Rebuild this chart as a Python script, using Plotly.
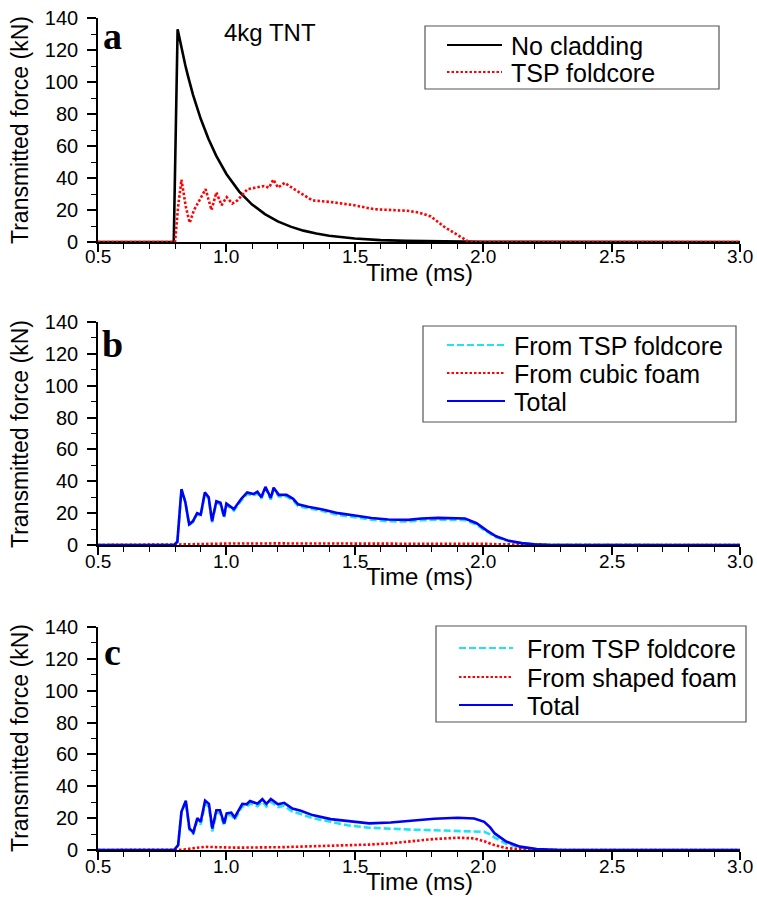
import plotly.graph_objects as go

# ---------------- Panel a ----------------
t_a_nc = [0.5, 0.795, 0.81, 0.82, 0.83, 0.84, 0.85, 0.87, 0.9, 0.93, 0.96, 1.0, 1.05, 1.1, 1.15, 1.2,
          1.25, 1.3, 1.35, 1.4, 1.5, 1.6, 1.7, 1.8, 1.9, 2.0, 3.0]
f_a_nc = [0, 0, 133, 125, 117.5, 110.5, 104, 92, 77, 64.5, 54, 42.5, 31.5, 23.4, 17.4, 12.9,
          9.6, 7.1, 5.3, 3.9, 2.2, 1.2, 0.7, 0.4, 0.2, 0.1, 0]

t_a_tsp = [0.5, 0.8, 0.812, 0.825, 0.842, 0.857, 0.874, 0.919, 0.942, 0.961, 0.981, 1.001, 1.023, 1.043,
           1.082, 1.121, 1.147, 1.166, 1.183, 1.201, 1.227, 1.264, 1.335, 1.406, 1.497, 1.575, 1.705,
           1.75, 1.796, 1.848, 1.9, 1.939, 1.958, 3.0]
f_a_tsp = [0, 0, 22, 39, 22, 12, 20, 33, 20, 31, 23, 28, 24, 26,
           33, 34, 35, 34, 39, 34, 37, 33, 26, 25, 23, 20.5, 19.5,
           18.4, 16, 9.5, 4.2, 0.6, 0, 0]

# ---------------- Panel b ----------------
t_b = [0.5, 0.796, 0.809, 0.825, 0.84, 0.855, 0.87, 0.886, 0.9, 0.916, 0.931, 0.944, 0.961, 0.977, 0.991,
       1.0, 1.029, 1.058, 1.081, 1.106, 1.121, 1.136, 1.152, 1.173, 1.184, 1.204, 1.234, 1.26, 1.279,
       1.318, 1.37, 1.435, 1.5, 1.565, 1.63, 1.708, 1.76, 1.825, 1.929, 1.974, 2.013, 2.05, 2.1, 2.15,
       2.2, 2.25, 3.0]
b_total = [0, 0, 2, 35, 27, 13, 15, 20, 19, 33, 30, 15, 27.5, 26.5, 18,
           26, 22.5, 29, 33, 32, 33.5, 30, 36.5, 29.5, 36, 31.5, 31.5, 29, 25.5,
           24, 22.5, 20, 18.5, 17, 16, 15.8, 16.6, 17, 16.6, 13.7, 9.2, 5.5, 2.6, 1.2,
           0.4, 0.1, 0]
b_foam = [0, 0, 0, 0, 0.2, 0.4, 0.5, 0.6, 0.7, 0.7, 0.8, 0.8, 0.8, 0.9, 0.9,
          0.9, 0.9, 1.0, 1.0, 1.0, 1.0, 1.0, 1.0, 1.0, 1.0, 1.0, 1.0, 1.0, 1.0,
          1.0, 1.0, 1.1, 1.1, 1.1, 1.1, 1.1, 1.1, 1.1, 1.0, 0.9, 0.7, 0.5, 0.3, 0.1,
          0.0, 0, 0]
b_tsp = [0, 0, 2, 35, 26.8, 12.6, 14.5, 19.4, 18.3, 32.3, 29.2, 14.2, 26.7, 25.6, 17.1,
         25.1, 21.6, 28, 32, 31, 32.5, 29, 35.5, 28.5, 35, 30.5, 30.5, 28, 24.5,
         23, 21.5, 18.9, 17.4, 15.9, 14.9, 14.7, 15.5, 15.9, 15.6, 12.8, 8.5, 5, 2.3, 1.1,
         0.4, 0.1, 0]

# ---------------- Panel c ----------------
t_c = [0.5, 0.796, 0.812, 0.825, 0.842, 0.856, 0.871, 0.887, 0.9, 0.917, 0.932, 0.945, 0.961, 0.975, 0.991,
       1.001, 1.019, 1.032, 1.062, 1.079, 1.092, 1.121, 1.14, 1.156, 1.173, 1.201, 1.225, 1.257, 1.29,
       1.335, 1.406, 1.471, 1.556, 1.64, 1.718, 1.809, 1.9, 1.965, 2.004, 2.027, 2.045, 2.091, 2.143,
       2.208, 2.3, 3.0]
c_total = [0, 0, 3, 24, 31, 13.5, 11, 20, 17.7, 31, 29, 13.5, 25, 25, 16.7,
           23, 23.5, 20.4, 29, 28.7, 30.8, 29, 31.9, 29, 32, 28.7, 29.6, 26, 24.6,
           21.9, 19.4, 18.1, 16.7, 17.3, 18.3, 19.6, 20.2, 19.8, 17.7, 14.2, 10.4, 5.2, 2.1,
           0.6, 0, 0]
c_foam = [0, 0, 0, 0.2, 0.5, 0.8, 1.0, 1.4, 1.7, 2.0, 1.9, 1.8, 1.7, 1.6, 1.5,
          1.5, 1.5, 1.5, 1.5, 1.6, 1.6, 1.6, 1.6, 1.7, 1.7, 1.7, 1.8, 1.9, 2.0,
          2.2, 2.5, 2.8, 3.4, 4.2, 5.5, 6.9, 7.7, 7.3, 5.5, 4.3, 3.0, 1.2, 0.4,
          0, 0, 0]
c_tsp = [0, 0, 3, 23.8, 30.5, 12.7, 10, 18.6, 16, 29, 27.1, 11.7, 23.3, 23.4, 15.2,
         21.5, 22, 18.9, 27.5, 27.1, 29.2, 27.4, 30.3, 27.3, 30.3, 27, 27.8, 24.1, 22.6,
         20.0, 17.7, 15.5, 14.0, 13.3, 12.8, 12.4, 12.1, 11.8, 11.4, 9.8, 7.8, 3.8, 1.5,
         0.4, 0, 0]

x_ticks = [0.5, 1.0, 1.5, 2.0, 2.5, 3.0]
x_ticktext = ["0.5", "1.0", "1.5", "2.0", "2.5", "3.0"]
y_ticks = [0, 20, 40, 60, 80, 100, 120, 140]

legend_a = ["No cladding", "TSP foldcore"]
legend_b = ["From TSP foldcore", "From cubic foam", "Total"]
legend_c = ["From TSP foldcore", "From shaped foam", "Total"]

FONT = "Liberation Sans, Arial, sans-serif"
RED = "#FF0000"
CYAN = "#1EE3F0"
BLUE = "#0000F5"
LW = 2.6
DOT = "2.5px,2px"
DASH = "7px,3px"

# body margin is removed by the post script, so the div sits at (0, 0)
W, H = 757, 910
ML, MR, MT, MB = 98, 17, 18, 60
PW = W - ML - MR
PH = H - MT - MB


def px_x(x):
    # window pixel x -> paper coordinate
    return (x - ML) / PW


def px_y(y):
    # window pixel y -> paper coordinate
    return (H - MB - y) / PH


fig = go.Figure()

fig.add_trace(go.Scatter(x=t_a_nc, y=f_a_nc, mode="lines", name=legend_a[0],
                         line=dict(color="black", width=LW), xaxis="x", yaxis="y"))
fig.add_trace(go.Scatter(x=t_a_tsp, y=f_a_tsp, mode="lines", name=legend_a[1],
                         line=dict(color=RED, width=LW, dash=DOT), xaxis="x", yaxis="y"))

fig.add_trace(go.Scatter(x=t_b, y=b_tsp, mode="lines", name=legend_b[0],
                         line=dict(color=CYAN, width=LW, dash=DASH), xaxis="x2", yaxis="y2"))
fig.add_trace(go.Scatter(x=t_b, y=b_foam, mode="lines", name=legend_b[1],
                         line=dict(color=RED, width=LW, dash=DOT), xaxis="x2", yaxis="y2"))
fig.add_trace(go.Scatter(x=t_b, y=b_total, mode="lines", name=legend_b[2],
                         line=dict(color=BLUE, width=LW), xaxis="x2", yaxis="y2"))

fig.add_trace(go.Scatter(x=t_c, y=c_tsp, mode="lines", name=legend_c[0],
                         line=dict(color=CYAN, width=LW, dash=DASH), xaxis="x3", yaxis="y3"))
fig.add_trace(go.Scatter(x=t_c, y=c_foam, mode="lines", name=legend_c[1],
                         line=dict(color=RED, width=LW, dash=DOT), xaxis="x3", yaxis="y3"))
fig.add_trace(go.Scatter(x=t_c, y=c_total, mode="lines", name=legend_c[2],
                         line=dict(color=BLUE, width=LW), xaxis="x3", yaxis="y3"))


def xax(anchor):
    return dict(range=[0.5, 3.0], anchor=anchor, domain=[0, 1], showline=True, linecolor="black",
                linewidth=1.6, ticks="outside", ticklen=8, tickwidth=1.6, tickcolor="black",
                tickvals=x_ticks, ticktext=x_ticktext, showgrid=False, zeroline=False,
                automargin=False, showticklabels=False,
                minor=dict(dtick=0.1, ticks="outside", ticklen=5, tickwidth=1.4, tickcolor="black", showgrid=False))


def yax(anchor, dom):
    return dict(range=[0, 140], anchor=anchor, domain=dom, showline=True, linecolor="black",
                linewidth=1.6, ticks="outside", ticklen=9, tickwidth=1.6, tickcolor="black",
                tickvals=y_ticks, showgrid=False, zeroline=False, ticklabelstandoff=5,
                automargin=False, ticklabeloverflow="allow",
                tickfont=dict(family=FONT, size=20, color="black"),
                minor=dict(dtick=10, ticks="outside", ticklen=5, tickwidth=1.4, tickcolor="black", showgrid=False))


dom_a = [px_y(242), px_y(18)]
dom_b = [px_y(545), px_y(322)]
dom_c = [px_y(850), px_y(627)]

fig.update_layout(
    width=W, height=H,
    margin=dict(l=ML, r=MR, t=MT, b=MB),
    paper_bgcolor="white", plot_bgcolor="white",
    xaxis=xax("y"), yaxis=yax("x", dom_a),
    xaxis2=xax("y2"), yaxis2=yax("x2", dom_b),
    xaxis3=xax("y3"), yaxis3=yax("x3", dom_c),
    showlegend=False,
)

ann = []
shapes = []
# x tick labels, placed on each panel's own x scale
for xref, yc in [("x", 256), ("x2", 561), ("x3", 866)]:
    for tv, tt in zip(x_ticks, x_ticktext):
        ann.append(dict(text=tt, x=tv, y=px_y(yc), xref=xref, yref="paper", showarrow=False,
                        xanchor="center", yanchor="middle", font=dict(family=FONT, size=19, color="black")))
for yc in [130, 434, 738]:
    ann.append(dict(text="Transmitted force (kN)", x=px_x(20), y=px_y(yc), xref="paper", yref="paper",
                    textangle=-90, showarrow=False, xanchor="center", yanchor="middle",
                    font=dict(family=FONT, size=23, color="black")))
for yc in [272, 576, 881]:
    ann.append(dict(text="Time (ms)", x=px_x(419), y=px_y(yc), xref="paper", yref="paper", showarrow=False,
                    xanchor="center", yanchor="middle", font=dict(family=FONT, size=24, color="black")))
for letter, yc in [("a", 36), ("b", 344), ("c", 652)]:
    ann.append(dict(text="<b>" + letter + "</b>", x=px_x(112), y=px_y(yc), xref="paper",
                    yref="paper", showarrow=False, xanchor="center", yanchor="middle",
                    font=dict(family="Liberation Serif, Times New Roman, serif", size=38, color="black")))
ann.append(dict(text="4kg TNT", x=px_x(270), y=px_y(32), xref="paper", yref="paper",
                showarrow=False, xanchor="center", yanchor="middle",
                font=dict(family=FONT, size=24, color="black")))

# Legends (box + sample lines + text)
legend_specs = [
    dict(box=(425, 26, 719, 89), names=legend_a, ys=[45, 72], x0=447, x1=502, tx=509,
         styles=[("black", "solid"), (RED, DOT)]),
    dict(box=(423, 326, 736, 422), names=legend_b, ys=[345, 373, 401], x0=447, x1=505, tx=512,
         styles=[(CYAN, DASH), (RED, DOT), (BLUE, "solid")]),
    dict(box=(436, 626, 746, 722), names=legend_c, ys=[648, 677, 705], x0=459, x1=513, tx=525,
         styles=[(CYAN, DASH), (RED, DOT), (BLUE, "solid")]),
]
for spec in legend_specs:
    bx0, by0, bx1, by1 = spec["box"]
    shapes.append(dict(type="rect", xref="paper", yref="paper", x0=px_x(bx0), x1=px_x(bx1),
                       y0=px_y(by1), y1=px_y(by0), line=dict(color="#555555", width=1.2),
                       fillcolor="white", layer="above"))
    for name, yy, (col, dsh) in zip(spec["names"], spec["ys"], spec["styles"]):
        shapes.append(dict(type="line", xref="paper", yref="paper", x0=px_x(spec["x0"]),
                           x1=px_x(spec["x1"]), y0=px_y(yy), y1=px_y(yy), layer="above",
                           line=dict(color=col, width=2.2, dash=dsh)))
        ann.append(dict(text=name, x=px_x(spec["tx"]), y=px_y(yy + 1), xref="paper", yref="paper",
                        showarrow=False, xanchor="left", yanchor="middle",
                        font=dict(family=FONT, size=25, color="black")))

fig.update_layout(annotations=ann, shapes=shapes)

fig.write_html("out.html", config={"displayModeBar": False},
               post_script="document.body.style.margin='0';document.body.style.overflow='hidden';")
